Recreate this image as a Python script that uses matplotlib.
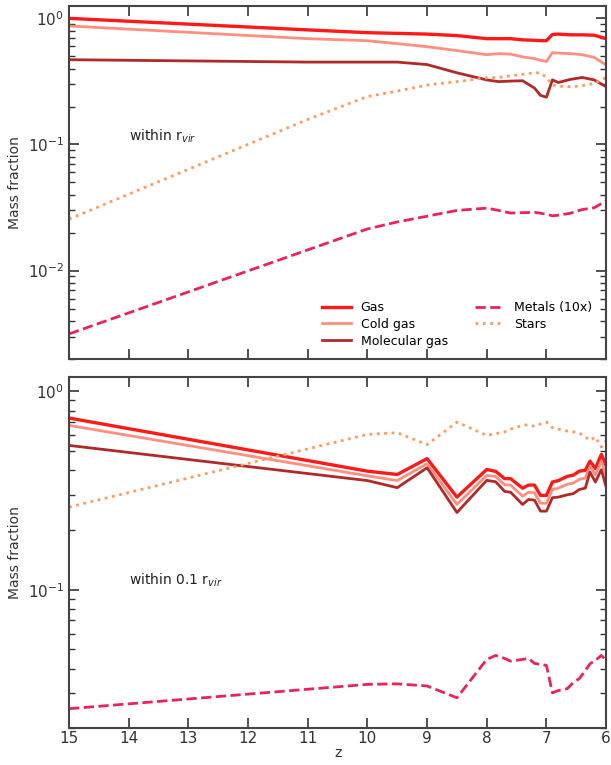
import numpy as np
import matplotlib
matplotlib.use("Agg")
import matplotlib.pyplot as plt
from matplotlib.ticker import LogLocator, NullFormatter

# redshift snapshots, top panel (within r_vir)
z_top = [15, 11, 10, 9.5, 9, 8.5, 8, 7.8, 7.6, 7.4, 7.2, 7.1, 7.0, 6.9, 6.8, 6.6, 6.4, 6.2, 6.0]
gas_top = [1.00, 0.81, 0.77, 0.76, 0.75, 0.73, 0.69, 0.69, 0.69, 0.675, 0.67, 0.665, 0.665,
           0.745, 0.75, 0.74, 0.74, 0.735, 0.69]
cold_top = [0.87, 0.69, 0.665, 0.63, 0.596, 0.555, 0.515, 0.525, 0.52, 0.495, 0.48, 0.465, 0.455,
            0.535, 0.53, 0.525, 0.515, 0.49, 0.427]
mol_top = [0.47, 0.45, 0.45, 0.45, 0.43, 0.37, 0.325, 0.315, 0.318, 0.32, 0.28, 0.245, 0.237,
           0.325, 0.31, 0.328, 0.34, 0.325, 0.287]
metals_top = [0.00315, 0.0146, 0.0214, 0.0243, 0.027, 0.030, 0.0313, 0.0300, 0.0286, 0.0288, 0.029,
              0.0285, 0.028, 0.0272, 0.0275, 0.0285, 0.0305, 0.0315, 0.0357]
stars_top = [0.0256, 0.158, 0.24, 0.265, 0.296, 0.315, 0.338, 0.34, 0.35, 0.36, 0.37, 0.37, 0.34,
             0.296, 0.29, 0.287, 0.292, 0.305, 0.34]

# bottom panel (within 0.1 r_vir)
z_bot = [15, 10, 9.5, 9, 8.5, 8, 7.85, 7.7, 7.6, 7.4, 7.3, 7.2, 7.1, 7.0, 6.9, 6.8, 6.65, 6.55,
         6.45, 6.35, 6.27, 6.18, 6.08, 6.0]
gas_bot = [0.734, 0.396, 0.381, 0.458, 0.293, 0.404, 0.395, 0.363, 0.363, 0.325, 0.337, 0.337,
           0.299, 0.299, 0.349, 0.355, 0.373, 0.378, 0.396, 0.40, 0.445, 0.408, 0.481, 0.423]
cold_bot = [0.674, 0.375, 0.355, 0.432, 0.269, 0.377, 0.372, 0.338, 0.337, 0.296, 0.31, 0.308,
            0.273, 0.273, 0.32, 0.325, 0.34, 0.345, 0.36, 0.365, 0.418, 0.38, 0.445, 0.375]
mol_bot = [0.534, 0.355, 0.327, 0.412, 0.245, 0.356, 0.35, 0.313, 0.31, 0.269, 0.285, 0.283,
           0.249, 0.249, 0.291, 0.293, 0.301, 0.305, 0.32, 0.325, 0.392, 0.349, 0.403, 0.33]
metals_bot = [0.0251, 0.0333, 0.0335, 0.0327, 0.0285, 0.0445, 0.0466, 0.0450, 0.0436, 0.0445,
              0.045, 0.0425, 0.042, 0.0415, 0.0302, 0.031, 0.0317, 0.034, 0.0356, 0.039, 0.0423,
              0.044, 0.0466, 0.044]
stars_bot = [0.261, 0.607, 0.619, 0.539, 0.70, 0.60, 0.612, 0.625, 0.645, 0.674, 0.679, 0.666,
             0.685, 0.70, 0.656, 0.645, 0.631, 0.625, 0.617, 0.59, 0.566, 0.589, 0.524, 0.566]

labels = ['Gas', 'Cold gas', 'Molecular gas', 'Metals (10x)', 'Stars']
colors = ['#ff1a1a', '#ff8f80', '#b02a2a', '#e8245a', '#ff9a66']
styles = ['-', '-', '-', '--', ':']
widths = [2.4, 2.0, 2.0, 2.0, 2.0]

fig = plt.figure(figsize=(6.11, 7.65), dpi=100)
ax1 = fig.add_axes([0.113, 0.531, 0.879, 0.461])
ax2 = fig.add_axes([0.113, 0.048, 0.879, 0.459])

panels = [
    (ax1, z_top, [gas_top, cold_top, mol_top, metals_top, stars_top], (0.002, 1.25)),
    (ax2, z_bot, [gas_bot, cold_bot, mol_bot, metals_bot, stars_bot], (0.02, 1.18)),
]

for ax, zz, series, ylim in panels:
    for y, lab, c, ls, lw in zip(series, labels, colors, styles, widths):
        ax.plot(zz, y, color=c, ls=ls, lw=lw, label=lab)
    ax.set_yscale('log')
    ax.set_xlim(15, 6)
    ax.set_ylim(*ylim)
    ax.set_ylabel('Mass fraction', fontsize=10, color='#333333')
    ax.yaxis.set_minor_locator(LogLocator(base=10, subs=np.arange(2, 10)))
    ax.yaxis.set_minor_formatter(NullFormatter())
    ax.tick_params(which='both', direction='in', top=True, right=True,
                   labelsize=11, colors='#333333')
    ax.tick_params(which='major', length=7, width=1.2)
    ax.tick_params(which='minor', length=4, width=1.0)
    ax.tick_params(axis='x', pad=2)
    for sp in ax.spines.values():
        sp.set_linewidth(1.5)
        sp.set_color('#444444')

ax1.tick_params(labelbottom=False)
ax1.text(0.112, 0.62, r'within r$_{vir}$', transform=ax1.transAxes, fontsize=10, color='#222222')
ax2.text(0.112, 0.41, r'within 0.1 r$_{vir}$', transform=ax2.transAxes, fontsize=10, color='#222222')
ax2.set_xlabel('z', fontsize=10, color='#333333', labelpad=0)

ax1.legend(loc='lower right', bbox_to_anchor=(0.995, 0.0), ncol=2, frameon=False,
           fontsize=9, handlelength=2.3, columnspacing=2.2, labelspacing=0.3)

fig.savefig('out.png', dpi=100)
